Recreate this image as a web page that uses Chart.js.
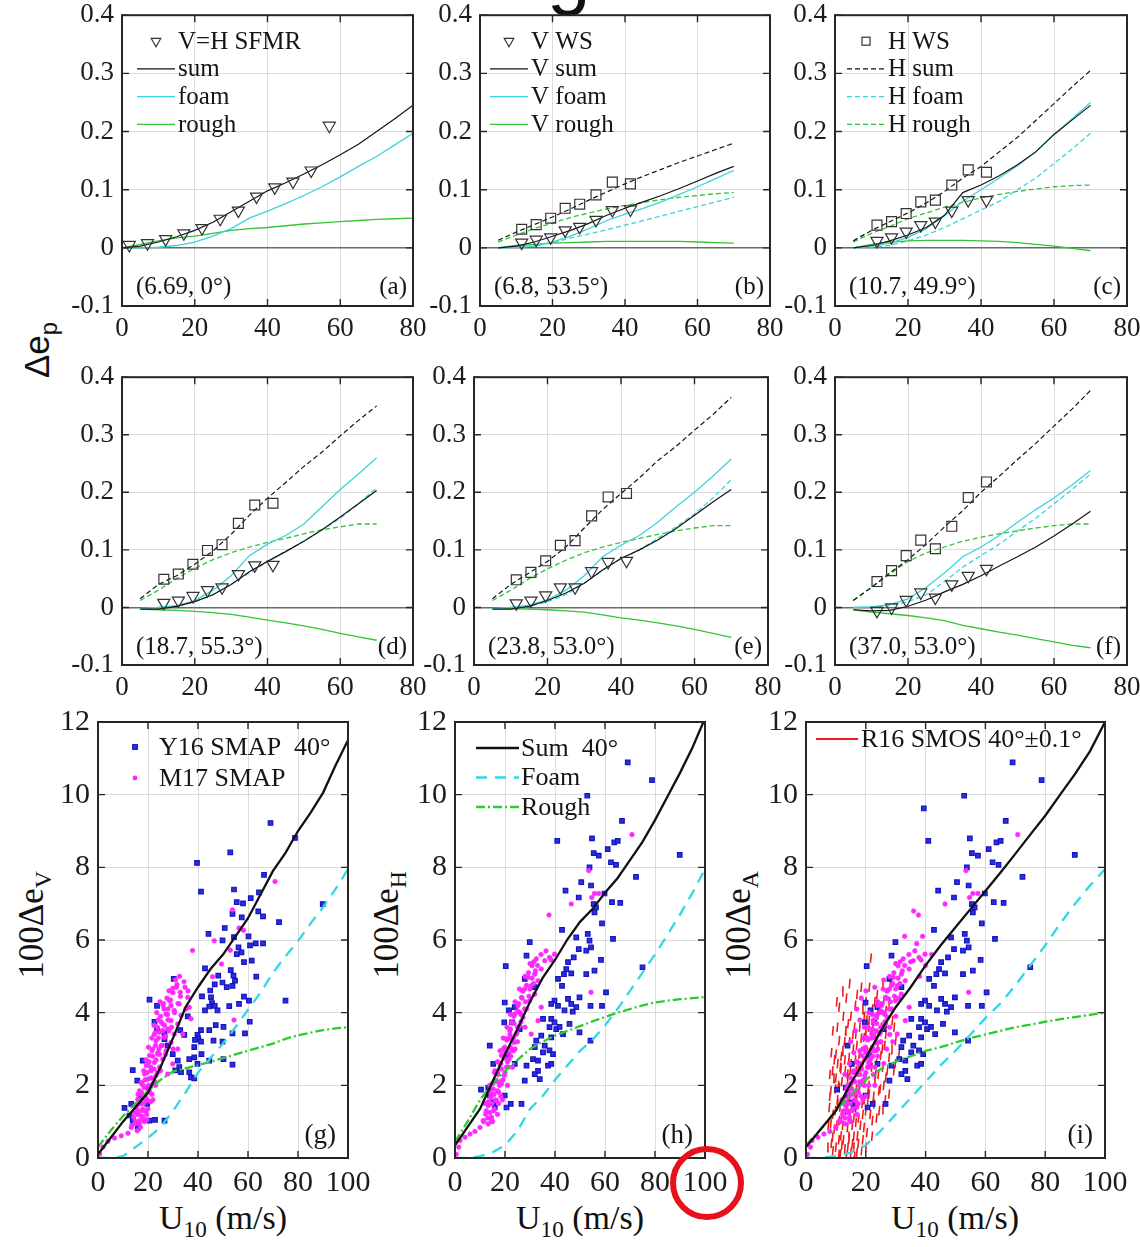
<!DOCTYPE html>
<html>
<head>
<meta charset="utf-8">
<script src="https://cdn.jsdelivr.net/npm/chart.js"></script>
<style>
  body { margin: 0; width: 1140px; height: 1247px; position: relative; overflow: hidden; background: #fff; }
  canvas { position: absolute; }
  .ytitle { position: absolute; transform: translate(-50%, -50%) rotate(-90deg); white-space: nowrap; line-height: 1; color: #111; }
  .xtitle { position: absolute; transform: translate(-50%, -50%); white-space: nowrap; line-height: 1; color: #111; font-family: 'Liberation Serif', serif; font-size: 34px; }
  sub { font-size: 0.68em; vertical-align: -0.35em; }
  #mark { position: absolute; left: 670px; top: 1146px; width: 74px; height: 74px; box-sizing: border-box; border: 6px solid #e8101a; border-radius: 50%; }
</style>
</head>
<body>
<svg width="1140" height="30" style="position:absolute;left:0;top:0"><text x="547" y="0" font-family="Liberation Sans" font-size="78" fill="#111">g</text></svg>

<div class="ytitle" style="left:40px;top:350px;font-family:'Liberation Sans',sans-serif;font-size:35px">Δe<sub>p</sub></div>
<div class="ytitle" style="left:35px;top:925px;font-family:'Liberation Serif',serif;font-size:35px">100Δe<sub>V</sub></div>
<div class="ytitle" style="left:390px;top:925px;font-family:'Liberation Serif',serif;font-size:35px">100Δe<sub>H</sub></div>
<div class="ytitle" style="left:742px;top:925px;font-family:'Liberation Serif',serif;font-size:35px">100Δe<sub>A</sub></div>
<div class="xtitle" style="left:223px;top:1221px">U<sub>10</sub> (m/s)</div>
<div class="xtitle" style="left:580px;top:1221px">U<sub>10</sub> (m/s)</div>
<div class="xtitle" style="left:955px;top:1221px">U<sub>10</sub> (m/s)</div>

<script>
'use strict';

// ---------- ticks ----------
const X_TICKS_TOP = [0, 20, 40, 60, 80];
const Y_TICKS_TOP = [-0.1, 0, 0.1, 0.2, 0.3, 0.4];
const X_TICKS_BOT = [0, 20, 40, 60, 80, 100];
const Y_TICKS_BOT = [0, 2, 4, 6, 8, 10, 12];

// ---------- panel (a) ----------
const U_A = [0, 5, 10, 15, 20, 25, 30, 35, 40, 45, 50, 55, 60, 65, 70, 75, 80];
const SUM_A = [0, 0.003, 0.01, 0.019, 0.03, 0.044, 0.062, 0.08, 0.098, 0.112, 0.127, 0.143, 0.16, 0.178, 0.2, 0.222, 0.245];
const FOAM_A = [0, 0, 0.001, 0.004, 0.01, 0.02, 0.033, 0.051, 0.063, 0.076, 0.09, 0.105, 0.122, 0.14, 0.157, 0.177, 0.197];
const ROUGH_A = [0, 0.006, 0.012, 0.017, 0.02, 0.025, 0.03, 0.033, 0.035, 0.038, 0.041, 0.043, 0.045, 0.047, 0.049, 0.05, 0.051];
const U_SFMR = [2, 7, 12, 17, 22, 27, 32, 37, 42, 47, 52, 57];
const SFMR_A = [0.005, 0.008, 0.015, 0.025, 0.034, 0.05, 0.064, 0.088, 0.104, 0.114, 0.133, 0.21];

// ---------- panels (b)-(f): model curves on U_MODEL, WindSat points on U_WS ----------
const U_MODEL = [5, 10, 15, 20, 25, 30, 35, 40, 45, 50, 55, 60, 65, 70];
const U_WS = [11.5, 15.5, 19.5, 23.5, 27.5, 32, 36.5, 41.5];

const V_WS_B = [0.009, 0.014, 0.018, 0.03, 0.036, 0.048, 0.065, 0.066];
const H_WS_B = [0.032, 0.04, 0.051, 0.068, 0.075, 0.091, 0.113, 0.11];
const V_SUM_B = [0, 0.003, 0.01, 0.02, 0.03, 0.042, 0.056, 0.068, 0.079, 0.09, 0.102, 0.115, 0.128, 0.14];
const V_FOAM_B = [0, 0.001, 0.003, 0.01, 0.02, 0.033, 0.047, 0.058, 0.068, 0.079, 0.092, 0.105, 0.119, 0.133];
const V_ROUGH_B = [0, 0.004, 0.006, 0.008, 0.009, 0.01, 0.011, 0.011, 0.011, 0.011, 0.011, 0.01, 0.009, 0.008];
const H_SUM_B = [0.013, 0.027, 0.04, 0.053, 0.067, 0.082, 0.096, 0.11, 0.123, 0.135, 0.147, 0.158, 0.169, 0.18];
const H_FOAM_B = [0, 0.001, 0.003, 0.009, 0.017, 0.024, 0.031, 0.039, 0.047, 0.055, 0.063, 0.071, 0.079, 0.087];
const H_ROUGH_B = [0.01, 0.022, 0.033, 0.043, 0.052, 0.06, 0.067, 0.073, 0.078, 0.083, 0.087, 0.09, 0.093, 0.095];

const V_WS_C = [0.012, 0.018, 0.028, 0.039, 0.045, 0.064, 0.082, 0.082];
const H_WS_C = [0.039, 0.045, 0.059, 0.079, 0.082, 0.108, 0.134, 0.13];
const V_SUM_C = [0, 0.004, 0.012, 0.022, 0.035, 0.056, 0.095, 0.108, 0.124, 0.143, 0.165, 0.195, 0.22, 0.245];
const V_FOAM_C = [0, 0.002, 0.008, 0.018, 0.033, 0.055, 0.08, 0.1, 0.12, 0.141, 0.165, 0.195, 0.222, 0.25];
const V_ROUGH_C = [0, 0.006, 0.01, 0.012, 0.013, 0.013, 0.013, 0.012, 0.011, 0.009, 0.006, 0.003, -0.001, -0.005];
const H_SUM_C = [0.012, 0.03, 0.045, 0.06, 0.077, 0.097, 0.12, 0.14, 0.165, 0.19, 0.219, 0.248, 0.277, 0.305];
const H_FOAM_C = [0, 0.001, 0.004, 0.012, 0.022, 0.035, 0.05, 0.065, 0.08, 0.1, 0.12, 0.145, 0.17, 0.197];
const H_ROUGH_C = [0.01, 0.025, 0.037, 0.05, 0.06, 0.07, 0.078, 0.086, 0.092, 0.097, 0.101, 0.105, 0.107, 0.108];

const V_WS_D = [0.008, 0.012, 0.02, 0.03, 0.035, 0.058, 0.073, 0.074];
const H_WS_D = [0.049, 0.058, 0.075, 0.099, 0.109, 0.146, 0.178, 0.181];
const V_SUM_D = [-0.003, -0.003, 0.002, 0.01, 0.022, 0.04, 0.062, 0.08, 0.097, 0.115, 0.135, 0.157, 0.18, 0.203];
const V_FOAM_D = [-0.002, 0, 0.003, 0.012, 0.03, 0.055, 0.09, 0.11, 0.125, 0.145, 0.175, 0.205, 0.232, 0.26];
const V_ROUGH_D = [-0.003, -0.004, -0.005, -0.007, -0.009, -0.012, -0.017, -0.022, -0.027, -0.032, -0.038, -0.045, -0.051, -0.057];
const H_SUM_D = [0.015, 0.04, 0.055, 0.075, 0.098, 0.127, 0.16, 0.19, 0.217, 0.245, 0.27, 0.298, 0.325, 0.35];
const H_FOAM_D = [-0.002, 0, 0.002, 0.01, 0.022, 0.04, 0.06, 0.08, 0.098, 0.115, 0.135, 0.155, 0.18, 0.208];
const H_ROUGH_D = [0.012, 0.03, 0.05, 0.068, 0.083, 0.095, 0.105, 0.113, 0.12, 0.128, 0.135, 0.14, 0.145, 0.145];

const V_WS_E = [0.007, 0.012, 0.021, 0.035, 0.035, 0.063, 0.079, 0.081];
const H_WS_E = [0.048, 0.061, 0.081, 0.108, 0.116, 0.159, 0.192, 0.198];
const V_SUM_E = [-0.003, -0.003, 0.002, 0.012, 0.025, 0.042, 0.065, 0.085, 0.1, 0.117, 0.137, 0.16, 0.183, 0.205];
const V_FOAM_E = [-0.002, 0, 0.004, 0.013, 0.03, 0.055, 0.088, 0.108, 0.125, 0.148, 0.175, 0.2, 0.228, 0.258];
const V_ROUGH_E = [-0.002, -0.002, -0.003, -0.004, -0.006, -0.008, -0.013, -0.018, -0.022, -0.027, -0.032, -0.038, -0.045, -0.052];
const H_SUM_E = [0.015, 0.04, 0.06, 0.08, 0.105, 0.138, 0.17, 0.198, 0.225, 0.255, 0.28, 0.308, 0.335, 0.365];
const H_FOAM_E = [-0.002, 0, 0.002, 0.01, 0.022, 0.042, 0.065, 0.085, 0.1, 0.12, 0.14, 0.162, 0.19, 0.222];
const H_ROUGH_E = [0.012, 0.03, 0.05, 0.067, 0.082, 0.095, 0.105, 0.113, 0.12, 0.127, 0.133, 0.138, 0.142, 0.142];

const V_WS_F = [-0.006, 0, 0.013, 0.026, 0.017, 0.04, 0.055, 0.067];
const H_WS_F = [0.045, 0.064, 0.09, 0.117, 0.102, 0.141, 0.191, 0.218];
const V_SUM_F = [-0.004, -0.006, -0.005, 0.002, 0.013, 0.027, 0.04, 0.055, 0.072, 0.088, 0.105, 0.124, 0.145, 0.167];
const V_FOAM_F = [0, 0.001, 0.005, 0.015, 0.035, 0.06, 0.088, 0.105, 0.125, 0.148, 0.17, 0.19, 0.213, 0.238];
const V_ROUGH_F = [-0.004, -0.008, -0.011, -0.014, -0.018, -0.023, -0.031, -0.037, -0.043, -0.048, -0.054, -0.06, -0.066, -0.07];
const H_SUM_F = [0.012, 0.035, 0.06, 0.083, 0.11, 0.14, 0.168, 0.2, 0.228, 0.257, 0.285, 0.315, 0.345, 0.377];
const H_FOAM_F = [0, 0.001, 0.003, 0.01, 0.022, 0.045, 0.07, 0.09, 0.11, 0.133, 0.155, 0.18, 0.205, 0.232];
const H_ROUGH_F = [0.012, 0.035, 0.058, 0.08, 0.095, 0.105, 0.115, 0.122, 0.128, 0.133, 0.138, 0.142, 0.145, 0.145];

// ---------- panels (g)-(i): 100Δe vs U10 at 40° ----------
const U_BIG = [0, 5, 10, 15, 20, 25, 30, 35, 40, 45, 50, 55, 60, 65, 70, 75, 80, 85, 90, 95, 100];
const SUM_G = [0.1, 0.55, 1.0, 1.4, 1.8, 2.5, 3.3, 4.15, 4.7, 5.2, 5.6, 6.1, 6.6, 7.25, 7.9, 8.4, 9.0, 9.5, 10.05, 10.8, 11.5];
const FOAM_G = [0, 0, 0.05, 0.3, 0.55, 0.85, 1.3, 1.8, 2.35, 2.75, 3.15, 3.6, 4.08, 4.55, 5.1, 5.55, 5.97, 6.45, 6.9, 7.4, 7.95];
const ROUGH_G = [0.3, 0.75, 1.15, 1.5, 1.85, 2.15, 2.38, 2.47, 2.55, 2.65, 2.75, 2.85, 2.95, 3.05, 3.15, 3.28, 3.38, 3.45, 3.52, 3.57, 3.6];
const SUM_H = [0.35, 0.85, 1.35, 2.1, 2.85, 3.55, 4.3, 4.95, 5.45, 6.02, 6.5, 6.85, 7.3, 7.7, 8.2, 8.7, 9.3, 9.95, 10.6, 11.3, 12.1];
const FOAM_H = [0, 0, 0.05, 0.15, 0.35, 0.75, 1.35, 1.7, 2.15, 2.55, 2.95, 3.25, 3.65, 4.1, 4.6, 5.1, 5.6, 6.15, 6.7, 7.3, 7.95];
const ROUGH_H = [0.45, 1.0, 1.6, 2.05, 2.4, 2.7, 3.0, 3.2, 3.37, 3.5, 3.63, 3.76, 3.88, 4.0, 4.1, 4.2, 4.28, 4.33, 4.37, 4.4, 4.43];
const SUM_I = [0.3, 0.8, 1.3, 2.05, 2.75, 3.5, 4.15, 4.7, 5.3, 5.85, 6.35, 6.85, 7.35, 7.85, 8.37, 8.9, 9.42, 10.0, 10.57, 11.2, 12.0];
const FOAM_I = [0, 0, 0.05, 0.15, 0.35, 0.75, 1.2, 1.65, 2.1, 2.55, 2.95, 3.4, 3.85, 4.25, 4.75, 5.3, 5.85, 6.45, 7.0, 7.5, 7.95];
const ROUGH_I = [0.35, 0.8, 1.3, 1.75, 2.15, 2.45, 2.65, 2.8, 2.95, 3.05, 3.18, 3.3, 3.4, 3.5, 3.6, 3.67, 3.75, 3.82, 3.88, 3.94, 4.0];

// Y16 SMAP (blue), [U10, 100Δe]
const Y16_G = [[69,9.22],[78.8,8.81],[52.9,8.41],[39.6,8.12],[41.2,7.33],[66.4,7.79],[64.4,7.31],[54.4,7.39],[55.5,7.04],[58,7.01],[61.1,7.15],[89.9,6.99],[64.1,6.79],[66,6.65],[72.4,6.49],[57.5,6.62],[53.8,6.72],[50.7,6.33],[44.2,6.17],[49.8,5.99],[54.4,6.08],[60.2,6.1],[56.2,5.8],[57.4,5.66],[55.5,5.61],[63.1,5.91],[66,5.91],[60.8,5.85],[61.5,5.43],[58.4,5.39],[42.8,5.22],[48.1,5.02],[53.1,5.17],[54.2,5.02],[54.8,4.88],[53.8,4.74],[63.3,4.99],[49.8,4.83],[46.7,4.78],[51.5,4.7],[44.9,4.61],[41.6,4.45],[45.2,4.42],[45.6,4.26],[46.7,4.19],[44.5,4.17],[47.8,4.06],[42.8,4.06],[52.5,4.18],[56.4,4.24],[58.4,4.44],[60.4,4.33],[75,4.33],[60.7,3.75],[58.8,3.43],[53.8,3.43],[50.2,3.61],[47.1,3.66],[44.5,3.52],[41.2,3.52],[39.8,3.39],[40.1,3.29],[38.8,3.25],[41.2,3.2],[46.2,3.23],[49.8,3.2],[38.5,3.05],[41.4,2.86],[38.5,2.77],[36.5,2.72],[44.5,2.68],[39.8,2.59],[50.2,2.72],[53.8,2.57],[32.5,2.5],[30.9,2.41],[33.2,2.36],[36.5,2.36],[37.2,2.22],[38.5,2.19],[31.9,2.68],[29.9,2.86],[27.9,3.09],[26.6,3.43],[23.6,3.52],[22.6,3.75],[20.6,4.36],[23.6,4.19],[30.3,4.93],[26.6,3.27],[32.9,3.52],[34.5,3.39],[35.9,3.9],[13.9,2.42],[15.7,2.13],[10.6,1.38],[12.6,1.17],[13.9,1.03],[15.9,0.83],[20.6,1.03],[22.8,1.05],[26.6,1.03],[13.3,1.49],[19.7,1.49],[17.3,1.67],[20.2,1.94],[17.9,2.68]];
const Y16_H = [[69.1,10.89],[78.8,10.4],[52.9,9.97],[66.8,9.28],[40.9,8.73],[54.8,8.8],[61.1,8.5],[63.7,8.69],[65.1,8.73],[89.9,8.34],[55.5,8.39],[57.5,8.32],[62.4,8.14],[64.4,8.07],[53.8,8.0],[72.4,7.74],[50.5,7.59],[54.4,7.5],[59.8,7.28],[49.5,7.17],[44.2,7.36],[55.5,6.99],[56.4,6.9],[55.8,6.76],[62.8,7.04],[66.1,7.02],[58.8,6.46],[63.2,6.03],[42.8,6.28],[29.9,5.94],[28.6,5.57],[20.3,5.28],[48.5,6.07],[53.1,6.17],[53.8,5.98],[54.4,5.8],[52.5,5.71],[49.5,5.75],[47.5,5.52],[58.4,5.45],[45.2,5.39],[44.5,5.2],[46.5,5.08],[43.6,5.06],[41.2,4.93],[42.8,4.74],[52.5,5.06],[55.8,5.16],[60.4,4.56],[75,5.25],[27.9,4.93],[31.9,4.7],[49.8,4.42],[54.2,4.19],[58.8,4.19],[45.2,4.38],[46.5,4.24],[48.5,4.15],[47.1,4.03],[43.8,4.06],[39.8,4.33],[38.5,4.24],[41.2,4.19],[19.9,4.28],[21.6,4.06],[23.9,4.15],[19.7,3.73],[22.8,3.73],[25.9,3.55],[35.2,3.83],[38.5,3.83],[39.8,3.73],[37.8,3.6],[40.5,3.55],[41.8,3.61],[43.2,3.41],[45.8,3.69],[49.8,3.46],[54.2,3.23],[34.5,3.37],[38.5,3.32],[35.9,3.09],[32.5,3.23],[31.9,3.05],[35.2,2.91],[37.8,2.96],[39.2,2.86],[33.2,2.68],[37.2,2.54],[38.5,2.59],[31.2,2.72],[28.6,2.54],[33.2,2.4],[13.9,3.09],[15.3,2.59],[10.4,1.88],[13.3,1.94],[13.9,1.72],[15.3,1.53],[15.9,1.39],[19.9,1.72],[20.6,1.39],[22.3,1.49],[26.6,1.49],[21.2,2.82],[23.9,2.59],[27.9,2.13],[31.9,2.31],[33.9,2.17]];
const Y16_I_EXTRA = [[39.4,9.62]];

// M17 SMAP (magenta)
const M17_G = [[0.7,0.11],[2,0.3],[4,0.46],[6.6,0.55],[9.3,0.61],[12,0.68],[15.7,0.75],[13.3,0.84],[17,0.85],[14.9,0.94],[16.6,1.03],[18.5,1.0],[14.3,1.12],[15.9,1.21],[17.5,1.15],[17.9,1.35],[15.3,1.39],[19,1.3],[17,1.49],[19.3,1.58],[15.9,1.62],[17.9,1.72],[20.6,1.81],[16.6,1.85],[18.6,1.94],[21.9,2.04],[17.3,2.08],[19.9,2.17],[23.2,2.27],[18.6,2.31],[21.2,2.4],[24.6,2.5],[19.3,2.54],[22.6,2.63],[25.9,2.72],[20.6,2.82],[23.9,2.86],[27.2,2.95],[21.9,3.0],[25.2,3.09],[29.2,3.18],[23.2,3.23],[26.6,3.32],[30.5,3.41],[24.6,3.46],[27.9,3.55],[31.9,3.69],[25.9,3.69],[29.2,3.78],[37.2,3.83],[33.2,3.92],[27.2,3.96],[30.5,4.06],[35.2,4.1],[32.5,4.24],[28.6,4.33],[35.9,4.42],[32.9,4.56],[34.8,4.7],[29.9,4.67],[31.6,4.77],[36.5,4.15],[33.9,3.41],[31.9,3.0],[29.9,2.59],[27.9,2.31],[22,1.6],[21,2.2],[24,2.9],[26,3.5],[28,4.1],[19.5,1.2],[23,2.0],[25,2.4],[20,2.6],[18,2.0],[16,1.3],[22.5,3.4],[24,3.8],[26,4.2],[30,3.0],[45.8,4.99],[49.4,5.34],[37.8,5.71],[52.9,5.72],[46.5,5.98],[56.4,6.33],[58.2,6.27],[53.8,6.83],[70.8,7.61],[54.4,3.8],
    [13.5,0.9],[15,1.0],[16.5,0.95],[18,1.1],[19.5,1.05],[14.5,1.25],[16.2,1.2],[17.8,1.3],[20,1.35],[15.5,1.45],[16.8,1.55],[18.2,1.5],[19.6,1.6],[21,1.55],[16,1.75],[17.4,1.8],[18.9,1.7],[20.3,1.85],[21.6,1.75],[17.5,2.05],[18.8,2.15],[20.2,2.0],[21.5,2.2],[22.8,2.1],[18.3,2.4],[19.7,2.35],[21.1,2.5],[22.4,2.45],[23.8,2.35],[19.2,2.7],[20.5,2.65],[21.9,2.8],[23.2,2.7],[24.6,2.85],[20.2,3.05],[21.6,2.95],[23,3.1],[24.4,3.0],[25.8,3.1],[27,2.85],[21.5,3.3],[22.9,3.45],[24.2,3.3],[25.6,3.5],[27,3.35],[28.4,3.5],[22.4,3.65],[23.8,3.6],[25.2,3.75],[26.6,3.65],[28,3.8],[29.4,3.6],[23.5,4.0],[25,3.9],[26.4,4.1],[27.8,3.95],[29.2,4.2],[30.6,4.0],[32,4.25],[24.8,4.3],[26.2,4.25],[27.6,4.4],[29,4.35],[28.4,4.6],[30,4.55],[31.4,4.7],[33,4.45],[34.4,4.85],[31,4.9],[32.6,5.0],[36,4.6]];
const M17_H = [[0.5,0.1],[1.5,0.3],[2,0.48],[4,0.57],[6,0.66],[8,0.73],[10,0.84],[13.3,0.94],[11.3,1.03],[14.6,1.12],[12.2,1.21],[15.7,1.35],[13.3,1.44],[16.6,1.58],[14.3,1.67],[17.5,1.81],[15.3,1.9],[18.6,2.04],[15.9,2.13],[19.7,2.27],[17,2.36],[20.6,2.5],[17.9,2.59],[21.5,2.72],[18.6,2.82],[22.6,2.95],[19.9,3.05],[23.6,3.18],[20.6,3.28],[24.6,3.41],[21.9,3.5],[25.9,3.64],[22.6,3.73],[27.2,3.87],[23.9,3.96],[28.6,4.1],[25.2,4.19],[29.9,4.33],[26.6,4.42],[31.9,4.51],[27.9,4.65],[30.5,4.74],[33.2,4.88],[29.2,4.97],[31.9,5.06],[34.5,5.2],[30.8,5.29],[35.9,5.43],[32.5,5.48],[37.8,5.52],[39.8,5.61],[34.5,4.15],[33.2,3.78],[30.5,3.41],[12,1.5],[14,2.0],[16,2.4],[18,2.1],[20,2.9],[22,3.3],[24,3.0],[26,4.0],[28,3.6],[17,1.2],[19,1.6],[21,2.0],[23,2.5],[25,3.2],[27,4.6],[15,1.0],[37.6,6.69],[46.5,6.99],[54.7,7.17],[55.8,7.28],[57.5,7.28],[53.5,7.91],[70.8,8.9],[54.4,4.56],
    [11.5,1.0],[13,1.1],[14.5,1.05],[12.5,1.3],[14,1.25],[15.5,1.3],[13.3,1.55],[14.8,1.5],[16.2,1.6],[17.5,1.5],[14.2,1.8],[15.6,1.75],[17,1.85],[18.3,1.7],[15,2.05],[16.4,2.1],[17.8,2.0],[19.2,2.15],[15.8,2.35],[17.2,2.3],[18.6,2.45],[20,2.35],[21.3,2.5],[17,2.65],[18.3,2.6],[19.7,2.75],[21,2.65],[22.3,2.8],[18,2.95],[19.3,3.0],[20.8,2.9],[22.2,3.05],[23.5,2.95],[19.3,3.3],[20.7,3.25],[22,3.4],[23.4,3.3],[24.8,3.45],[20.8,3.6],[22.2,3.55],[23.6,3.7],[25,3.6],[26.4,3.75],[22.2,3.95],[23.6,3.9],[25,4.05],[26.4,3.95],[27.8,4.1],[24,4.3],[25.4,4.25],[26.8,4.4],[28.2,4.3],[29.6,4.45],[25.8,4.65],[27.2,4.6],[28.6,4.75],[30,4.65],[31.4,4.8],[28,5.0],[29.4,5.1],[30.8,4.95],[32.2,5.15],[30,5.35],[31.5,5.4],[33,5.3],[34.4,5.6],[36.4,5.7],[38.5,5.45]];
const M17_I_EXTRA = [[12,1.6],[13.5,1.9],[15,2.2],[16.5,1.8],[18,2.3],[19.5,2.0],[21,2.6],[22.5,2.3],[24,2.8],[13,2.3],[14.5,2.6],[16,2.9],[17.5,2.6],[19,3.0],[20.5,3.3],[22,3.0],[23.5,3.5],[25,3.2],[26.5,3.7],[28,3.4],[15,3.2],[16.5,3.5],[18,3.8],[19.5,3.6],[21,4.0],[22.5,3.8],[24,4.2],[25.5,4.0],[27,4.4],[28.5,4.1],[17,4.1],[18.5,4.4],[20,4.6],[23,4.7],[26,4.9],[29,4.8],[30,3.9],[31,4.4],[27,3.0],[29,3.2],[26,2.6],[23,2.0],[20,1.7],[17,1.4],[14,1.3],[35,5.4],[37,5.9],[39,6.1],[40,5.3],[33,6.1],[36,6.8],[42,5.6],[38,5.0]];

// R16 SMOS (red strokes), stroke centres
const R16_I = [[21.7,5.5],[28.3,4.9],[25.6,4.8],[11.1,4.15],[23.9,3.96],[26.7,4.06],[21.1,3.78],[28.9,3.78],[13.3,3.5],[16.7,3.41],[19.4,3.32],[23.3,3.23],[26.7,3.41],[30,3.23],[11.1,3.23],[10,2.86],[12.2,2.95],[14.4,2.77],[17.8,2.86],[21.7,2.68],[25,2.82],[27.8,2.77],[31.1,2.86],[8.9,2.4],[11.7,2.45],[13.9,2.31],[16.7,2.4],[20,2.22],[23.3,2.31],[26.7,2.22],[29.4,2.4],[8.3,1.85],[11.1,1.94],[14.4,1.76],[17.8,1.9],[21.1,1.76],[24.4,1.85],[27.8,1.76],[7.8,1.39],[10.6,1.49],[13.3,1.3],[16.7,1.39],[20,1.3],[22.8,1.49],[25.6,1.35],[8.3,0.94],[11.1,1.03],[13.9,0.84],[16.7,0.98],[19.4,0.84],[22.2,1.03],[8.9,0.57],[11.7,0.61],[14.4,0.52],[17.2,0.61],[9,0.2],[11,0.1],[13,0.25],[15,0.15],[12,0.35],[16,0.3],[10,0.3],[12,2.1],[15,2.6],[18,2.0],[14,1.5],[16,1.1],[19,2.6],[17,3.1],[13,2.7],[22,2.5],[24,3.1],[21,3.6],[18,3.6],[15,3.9],[23,4.3],[20,4.3],[27,3.7],[12,1.2],[9,1.2],[10,2.2],[14,2.2],[17,1.7],[19,1.2],[21,2.0],[26,2.0],
    [9.5,0.8],[10.5,1.6],[11.5,2.5],[12.5,0.5],[13.5,1.9],[14.5,3.2],[15.5,0.9],[16.5,2.7],[17.5,0.4],[18.5,3.3],[19.5,1.6],[20.5,2.9],[21.5,1.2],[22.5,3.7],[23.5,2.6],[24.5,1.3],[25.5,3.0],[26.5,1.6],[9.5,2.7],[10.5,3.6],[12.5,3.9],[13.5,4.4],[16.5,4.2],[18.5,4.7],[19.5,3.9],[24.5,4.1],[8,1.7],[7.5,0.9],[8.5,2.9],[9,3.5],[11.5,0.1],[13.5,0.05],[15.5,0.4],[17,0.15],[10.2,0.9],[12.7,1.6],[14.8,2.4],[16.2,3.6],[18.8,1.5],[20.8,1.9],[22.6,1.7],[24.2,2.3],[27.2,2.4],[28.6,3.0],[26,4.3],[29.5,3.6],[11.8,2.8],[13.2,3.5],[15.8,3.0],[17.4,2.4],[19.9,3.5],[21.2,4.7],[23.8,4.5],[14.2,0.6],[16.4,1.6],[18.2,0.9],[20.4,0.7],[9.8,1.9],[11,0.5],
    [8.5,0.4],[9.8,1.3],[10.8,2.0],[11.4,1.4],[12.3,0.9],[13.1,2.4],[14,0.3],[14.7,1.2],[15.3,2.0],[16,0.6],[16.8,1.9],[17.6,1.1],[18.3,2.5],[19,0.5],[19.8,2.2],[20.6,1.5],[21.4,2.9],[22.1,0.6],[22.9,2.1],[23.6,1.1],[24.8,1.9],[25.7,2.5],[9.2,2.2],[10.6,2.6],[12.9,3.2],[14.1,3.7],[15.7,3.4],[17.1,4.5],[18.9,4.1],[20.3,3.8],[22.2,4.1],[23.1,3.4],[25.1,3.6],[26.3,3.1],[27.9,4.3],[29.9,2.6],[7.2,0.3],[8,2.3],[10.3,4.3],[12.2,4.6],[14.6,4.8],[16.2,0.05],[18.6,0.2],[20.1,0.3]];

// ---------- colours / styles ----------
const INK = '#151515';
const CYAN = '#3cd3da';
const GREEN = '#35c435';
const CYAN_B = '#30d8e4';
const GREEN_B = '#2ccc2c';
const BLUE = '#1414c0';
const MAGENTA = '#ff28ff';
const RED = '#ee1c1c';
const SERIF = "'Liberation Serif', 'Times New Roman', serif";

// plot rectangles (page pixels)
const PANEL_BOX = {
    a: {L: 122, T: 15, R: 413, B: 306}, b: {L: 480, T: 15, R: 770, B: 306}, c: {L: 835, T: 15, R: 1127, B: 306},
    d: {L: 122, T: 377, R: 413, B: 665}, e: {L: 474, T: 377, R: 768, B: 665}, f: {L: 835, T: 377, R: 1127, B: 665},
    g: {L: 98, T: 720, R: 348, B: 1158}, h: {L: 455, T: 720, R: 705, B: 1158}, i: {L: 806, T: 720, R: 1105, B: 1158}
};

const to_points = (xs, ys) => xs.map((x, k) => ({x, y: ys[k]}));
const pairs = list => list.map(([x, y]) => ({x, y}));

const curve = (xs, ys, color, width, dash = [], order = 1) => ({
    data: to_points(xs, ys), showLine: true, pointRadius: 0, borderColor: color,
    borderWidth: width, borderDash: dash, tension: 0, fill: false, order
});

const markers = (xs, ys, style) => ({
    data: to_points(xs, ys), showLine: false,
    pointStyle: style === 'tri' ? 'triangle' : 'rect', rotation: style === 'tri' ? 180 : 0,
    pointRadius: 7, pointBorderColor: '#333', borderColor: '#333',
    pointBackgroundColor: 'rgba(255,255,255,0)', backgroundColor: 'rgba(255,255,255,0)',
    pointBorderWidth: 1.2, order: 0
});

const scatter = (list, kind, order) => ({
    data: pairs(list), showLine: false, order,
    pointStyle: kind === 'blue' ? 'rect' : 'circle',
    pointRadius: kind === 'blue' ? 3.2 : 2.3,
    pointBackgroundColor: kind === 'blue' ? '#2e2ee0' : MAGENTA,
    pointBorderColor: kind === 'blue' ? BLUE : MAGENTA,
    pointBorderWidth: kind === 'blue' ? 1.2 : 0.6
});

const red_strokes = list => ({
    data: list.flatMap(([x, y]) => [{x: x - 0.15, y: y - 0.13}, {x: x + 0.15, y: y + 0.13}, {x, y: null}]),
    showLine: true, spanGaps: false, pointRadius: 0, borderColor: RED, borderWidth: 1.6, order: 4
});

const draw_marker = (ctx, kind, x, y) => {
    ctx.save();
    ctx.setLineDash([]);
    if (kind === 'tri') {
        const r = 5.5;
        ctx.beginPath();
        ctx.moveTo(x - r * 0.866, y - r * 0.5);
        ctx.lineTo(x + r * 0.866, y - r * 0.5);
        ctx.lineTo(x, y + r);
        ctx.closePath();
        ctx.strokeStyle = '#333'; ctx.lineWidth = 1.2; ctx.stroke();
    } else if (kind === 'sq') {
        ctx.strokeStyle = '#333'; ctx.lineWidth = 1.2; ctx.strokeRect(x - 4, y - 4, 8, 8);
    } else if (kind === 'blue') {
        ctx.fillStyle = '#2e2ee0'; ctx.strokeStyle = BLUE; ctx.lineWidth = 1.2;
        ctx.fillRect(x - 2.3, y - 2.3, 4.6, 4.6); ctx.strokeRect(x - 2.3, y - 2.3, 4.6, 4.6);
    } else if (kind === 'mag') {
        ctx.fillStyle = MAGENTA; ctx.beginPath(); ctx.arc(x, y, 2.4, 0, Math.PI * 2); ctx.fill();
    }
    ctx.restore();
};

// box, inward ticks, legend and panel notes drawn over the plot
const decor = cfg => ({
    id: `decor_${cfg.key}`,
    afterDatasetsDraw(chart) {
        const ctx = chart.ctx;
        const area = chart.chartArea;
        const xs = chart.scales.x, ys = chart.scales.y;
        ctx.save();
        ctx.strokeStyle = '#262626';
        ctx.lineWidth = 1.4;
        const tick = 7;
        ctx.beginPath();
        for (const v of cfg.x_ticks) {
            const px = xs.getPixelForValue(v);
            ctx.moveTo(px, area.bottom); ctx.lineTo(px, area.bottom - tick);
            ctx.moveTo(px, area.top); ctx.lineTo(px, area.top + tick);
        }
        for (const v of cfg.y_ticks) {
            const py = ys.getPixelForValue(v);
            ctx.moveTo(area.left, py); ctx.lineTo(area.left + tick, py);
            ctx.moveTo(area.right, py); ctx.lineTo(area.right - tick, py);
        }
        ctx.stroke();
        ctx.lineWidth = 2;
        ctx.strokeRect(area.left, area.top, area.right - area.left, area.bottom - area.top);
        ctx.restore();
    },
    afterDraw(chart) {
        const ctx = chart.ctx;
        const area = chart.chartArea;
        ctx.save();
        ctx.fillStyle = INK;
        ctx.textBaseline = 'middle';
        const lg = cfg.legend;
        if (lg) {
            ctx.font = `${lg.size}px ${SERIF}`;
            lg.items.forEach((item, k) => {
                const y = area.top + lg.y0 + k * lg.dy;
                const x0 = area.left + lg.x0;
                if (item.marker) {
                    draw_marker(ctx, item.marker, x0 + lg.len / 2, y);
                } else {
                    ctx.save();
                    ctx.strokeStyle = item.color;
                    ctx.lineWidth = item.width;
                    ctx.setLineDash(item.dash || []);
                    ctx.beginPath(); ctx.moveTo(x0, y); ctx.lineTo(x0 + lg.len, y); ctx.stroke();
                    ctx.restore();
                }
                ctx.textAlign = 'left';
                ctx.fillText(item.text, x0 + lg.len + lg.gap, y + 1);
            });
        }
        for (const note of cfg.notes) {
            ctx.font = `${note.size}px ${SERIF}`;
            ctx.textAlign = note.side === 'L' ? 'left' : 'right';
            const x = note.side === 'L' ? area.left + note.dx : area.right - note.dx;
            ctx.fillText(note.text, x, area.bottom - note.dy);
        }
        ctx.restore();
    }
});

const build_chart = (key, cfg) => {
    const box = PANEL_BOX[key];
    const pad = {l: 80, t: 24, r: 34, b: 56};
    const canvas = document.createElement('canvas');
    const w = box.R - box.L + pad.l + pad.r;
    const h = box.B - box.T + pad.t + pad.b;
    canvas.width = w;
    canvas.height = h;
    Object.assign(canvas.style, {left: `${box.L - pad.l}px`, top: `${box.T - pad.t}px`, width: `${w}px`, height: `${h}px`});
    document.body.appendChild(canvas);
    cfg.key = key;

    const tick_font = {family: SERIF, size: cfg.tick_size};
    new Chart(canvas, {
        type: 'scatter',
        data: {datasets: cfg.datasets},
        options: {
            responsive: false, animation: false, devicePixelRatio: 1,
            layout: {padding: {left: 0, top: pad.t, right: pad.r, bottom: 0}},
            plugins: {legend: {display: false}, tooltip: {enabled: false}},
            scales: {
                x: {
                    type: 'linear', min: cfg.x_ticks[0], max: cfg.x_ticks[cfg.x_ticks.length - 1],
                    afterFit: s => { s.height = pad.b; },
                    afterBuildTicks: s => { s.ticks = cfg.x_ticks.map(value => ({value})); },
                    ticks: {font: tick_font, color: '#1c1c1c', padding: cfg.x_pad, autoSkip: false, maxRotation: 0, callback: v => String(v)},
                    grid: {color: '#dcdcdc', lineWidth: 1, drawTicks: false},
                    border: {display: false}
                },
                y: {
                    type: 'linear', min: cfg.y_ticks[0], max: cfg.y_ticks[cfg.y_ticks.length - 1],
                    afterFit: s => { s.width = pad.l; },
                    afterBuildTicks: s => { s.ticks = cfg.y_ticks.map(value => ({value})); },
                    ticks: {font: tick_font, color: '#1c1c1c', padding: 8, autoSkip: false, callback: v => String(v)},
                    grid: {
                        color: c => (cfg.zero_line && c.tick && Math.abs(c.tick.value) < 1e-9) ? '#6a6a6a' : '#dcdcdc',
                        lineWidth: c => (cfg.zero_line && c.tick && Math.abs(c.tick.value) < 1e-9) ? 1.4 : 1,
                        drawTicks: false
                    },
                    border: {display: false}
                }
            }
        },
        plugins: [decor(cfg)]
    });
};

// ---------- top two rows ----------
const top_cfg = (datasets, notes, legend) => ({
    datasets, notes, legend, x_ticks: X_TICKS_TOP, y_ticks: Y_TICKS_TOP,
    tick_size: 27, x_pad: 7, zero_line: true
});

const model_sets = (vs, vf, vr, hs, hf, hr, vw, hw) => [
    markers(U_WS, vw, 'tri'),
    markers(U_WS, hw, 'sq'),
    curve(U_MODEL, vs, INK, 1.2),
    curve(U_MODEL, vf, CYAN, 1.3),
    curve(U_MODEL, vr, GREEN, 1.3),
    curve(U_MODEL, hs, INK, 1.2, [5, 3]),
    curve(U_MODEL, hf, CYAN, 1.3, [5, 3]),
    curve(U_MODEL, hr, GREEN, 1.3, [5, 3])
];

const corner_notes = (left, right, dy) => [
    {text: left, side: 'L', dx: 14, dy, size: 25},
    {text: right, side: 'R', dx: 6, dy, size: 25}
];

build_chart('a', top_cfg([
    markers(U_SFMR, SFMR_A, 'tri'),
    curve(U_A, SUM_A, INK, 1.2),
    curve(U_A, FOAM_A, CYAN, 1.3),
    curve(U_A, ROUGH_A, GREEN, 1.3)
], corner_notes('(6.69, 0°)', '(a)', 19), {
    x0: 15, y0: 26, dy: 27.7, len: 38, gap: 3, size: 25,
    items: [
        {marker: 'tri', text: 'V=H SFMR'},
        {color: INK, width: 1.2, text: 'sum'},
        {color: CYAN, width: 1.3, text: 'foam'},
        {color: GREEN, width: 1.3, text: 'rough'}
    ]
}));

build_chart('b', top_cfg(
    model_sets(V_SUM_B, V_FOAM_B, V_ROUGH_B, H_SUM_B, H_FOAM_B, H_ROUGH_B, V_WS_B, H_WS_B),
    corner_notes('(6.8, 53.5°)', '(b)', 19), {
    x0: 10, y0: 26, dy: 27.7, len: 38, gap: 3, size: 25,
    items: [
        {marker: 'tri', text: 'V WS'},
        {color: INK, width: 1.2, text: 'V sum'},
        {color: CYAN, width: 1.3, text: 'V foam'},
        {color: GREEN, width: 1.3, text: 'V rough'}
    ]
}));

build_chart('c', top_cfg(
    model_sets(V_SUM_C, V_FOAM_C, V_ROUGH_C, H_SUM_C, H_FOAM_C, H_ROUGH_C, V_WS_C, H_WS_C),
    corner_notes('(10.7, 49.9°)', '(c)', 19), {
    x0: 12, y0: 26, dy: 27.7, len: 38, gap: 3, size: 25,
    items: [
        {marker: 'sq', text: 'H WS'},
        {color: INK, width: 1.2, dash: [5, 3], text: 'H sum'},
        {color: CYAN, width: 1.3, dash: [5, 3], text: 'H foam'},
        {color: GREEN, width: 1.3, dash: [5, 3], text: 'H rough'}
    ]
}));

build_chart('d', top_cfg(
    model_sets(V_SUM_D, V_FOAM_D, V_ROUGH_D, H_SUM_D, H_FOAM_D, H_ROUGH_D, V_WS_D, H_WS_D),
    corner_notes('(18.7, 55.3°)', '(d)', 18), null));

build_chart('e', top_cfg(
    model_sets(V_SUM_E, V_FOAM_E, V_ROUGH_E, H_SUM_E, H_FOAM_E, H_ROUGH_E, V_WS_E, H_WS_E),
    corner_notes('(23.8, 53.0°)', '(e)', 18), null));

build_chart('f', top_cfg(
    model_sets(V_SUM_F, V_FOAM_F, V_ROUGH_F, H_SUM_F, H_FOAM_F, H_ROUGH_F, V_WS_F, H_WS_F),
    corner_notes('(37.0, 53.0°)', '(f)', 18), null));

// ---------- bottom row ----------
const bot_cfg = (datasets, tag, legend) => ({
    datasets, legend, x_ticks: X_TICKS_BOT, y_ticks: Y_TICKS_BOT,
    tick_size: 30, x_pad: 7, zero_line: false,
    notes: [{text: tag, side: 'R', dx: 12, dy: 22, size: 27}]
});

const model_big = (sum, foam, rough) => [
    curve(U_BIG, sum, '#111', 2.3, [], 0),
    curve(U_BIG, foam, CYAN_B, 2.3, [11, 8], 0),
    curve(U_BIG, rough, GREEN_B, 2.3, [9, 3, 2, 3], 0)
];

build_chart('g', bot_cfg([
    ...model_big(SUM_G, FOAM_G, ROUGH_G),
    scatter(M17_G, 'mag', 2),
    scatter(Y16_G, 'blue', 3)
], '(g)', {
    x0: 28, y0: 25, dy: 31, len: 18, gap: 15, size: 26,
    items: [
        {marker: 'blue', text: 'Y16 SMAP  40°'},
        {marker: 'mag', text: 'M17 SMAP'}
    ]
}));

build_chart('h', bot_cfg([
    ...model_big(SUM_H, FOAM_H, ROUGH_H),
    scatter(M17_H, 'mag', 2),
    scatter(Y16_H, 'blue', 3)
], '(h)', {
    x0: 21, y0: 26, dy: 29.5, len: 43, gap: 2, size: 26,
    items: [
        {color: '#111', width: 2.3, text: 'Sum  40°'},
        {color: CYAN_B, width: 2.3, dash: [11, 8], text: 'Foam'},
        {color: GREEN_B, width: 2.3, dash: [9, 3, 2, 3], text: 'Rough'}
    ]
}));

build_chart('i', bot_cfg([
    ...model_big(SUM_I, FOAM_I, ROUGH_I),
    scatter([...M17_H, ...M17_I_EXTRA], 'mag', 2),
    scatter([...Y16_H, ...Y16_I_EXTRA], 'blue', 3),
    red_strokes(R16_I)
], '(i)', {
    x0: 10, y0: 17, dy: 30, len: 42, gap: 3, size: 26,
    items: [
        {color: RED, width: 2, text: 'R16 SMOS 40°±0.1°'}
    ]
}));
</script>
<div id="mark"></div>
</body>
</html>
